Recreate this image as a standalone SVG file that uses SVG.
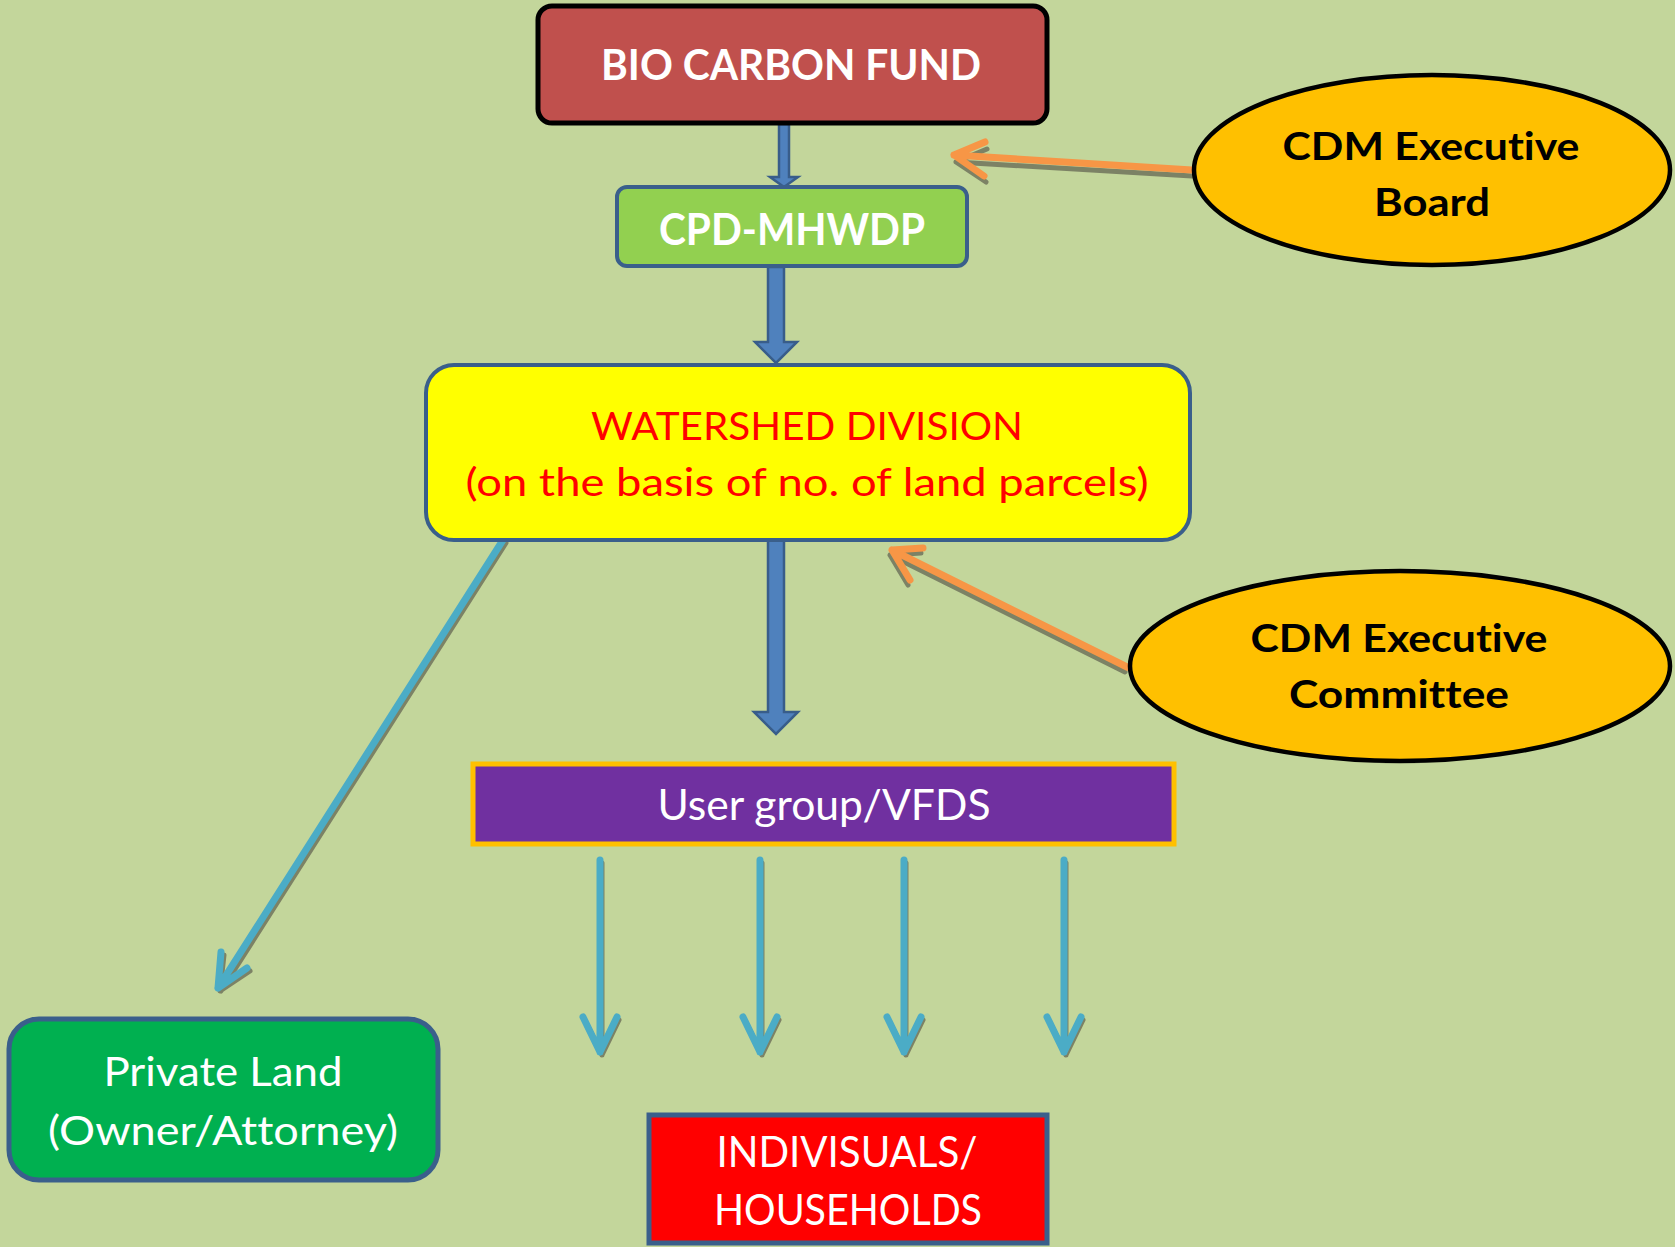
<svg xmlns="http://www.w3.org/2000/svg" width="1675" height="1247" viewBox="0 0 1675 1247">
<style>
text{font-family:Lato,"Liberation Sans",sans-serif;text-anchor:middle;font-variant-ligatures:none;font-feature-settings:"liga" 0,"clig" 0}
.b{font-weight:bold}
.w{fill:#fff}
.blk{fill:#000}
.red{fill:#FF0000}
.blue{fill:#4F81BD;stroke:#385D8A;stroke-width:2.5;stroke-linejoin:miter}
.cy{fill:none;stroke:#4BACC6;stroke-width:7;stroke-linecap:round;stroke-linejoin:round}
.or{fill:none;stroke:#F79646;stroke-width:7;stroke-linecap:round;stroke-linejoin:round}
.sh{fill:none;stroke:#5E5E4E;stroke-width:5;stroke-linecap:round;stroke-linejoin:round;opacity:0.7}
.ell{fill:#FFC000;stroke:#000;stroke-width:4.5}
</style>
<rect x="0" y="0" width="1675" height="1247" fill="#C3D69B"/>

<g id="connectors">
  <polygon class="blue" points="779,124 789,124 789,177 798,177 784,187 770,177 779,177"/>
  <polygon class="blue" points="768,267 784,267 784,342 797,342 776,363 755,342 768,342"/>
  <polygon class="blue" points="768,540 784,540 784,712 798,712 776,734 754,712 768,712"/>

  <path class="sh" d="M506,543 L221,991 M224,955 L220,991 L250,971"/>
  <path class="cy" d="M503,540 L218,988 M221,952 L218,988 L247,968"/>

  <g transform="translate(2,3)">
    <path class="sh" d="M600,860 V1052 M583,1017 L600,1052 L617,1017"/>
    <path class="sh" d="M760,860 V1052 M743,1017 L760,1052 L777,1017"/>
    <path class="sh" d="M904,860 V1052 M887,1017 L904,1052 L921,1017"/>
    <path class="sh" d="M1064,860 V1052 M1047,1017 L1064,1052 L1081,1017"/>
  </g>
  <path class="cy" d="M600,860 V1052 M583,1017 L600,1052 L617,1017"/>
  <path class="cy" d="M760,860 V1052 M743,1017 L760,1052 L777,1017"/>
  <path class="cy" d="M904,860 V1052 M887,1017 L904,1052 L921,1017"/>
  <path class="cy" d="M1064,860 V1052 M1047,1017 L1064,1052 L1081,1017"/>

  <path class="sh" d="M1192,173 L956,159 M987,146 L956,159 L986,179" transform="translate(0,3)"/>
  <path class="or" d="M1192,170 L954,155 M985,142 L954,155 L984,176"/>

  <path class="sh" d="M1127,669 L892,552 M923,550 L892,552 L910,582" transform="translate(-2,3)"/>
  <path class="or" d="M1127,667 L892,550 M923,548 L892,550 L910,580"/>
</g>

<g id="bio-carbon-fund">
  <rect x="538" y="6" width="509" height="117" rx="14" fill="#C0504D" stroke="#000" stroke-width="5"/>
  <text class="b w" x="791" y="80" font-size="42" textLength="380" lengthAdjust="spacingAndGlyphs">BIO CARBON FUND</text>
</g>

<g id="cpd-mhwdp">
  <rect x="617" y="187" width="350" height="79" rx="10" fill="#92D050" stroke="#3A5F8B" stroke-width="4"/>
  <text class="b w" x="792" y="245" font-size="44" textLength="266" lengthAdjust="spacingAndGlyphs">CPD-MHWDP</text>
</g>

<g id="cdm-executive-board">
  <ellipse class="ell" cx="1432" cy="170" rx="238" ry="95"/>
  <text class="b blk" x="1431" y="160" font-size="39" textLength="297" lengthAdjust="spacingAndGlyphs">CDM Executive</text>
  <text class="b blk" x="1432" y="216" font-size="39" textLength="116" lengthAdjust="spacingAndGlyphs">Board</text>
</g>

<g id="watershed-division">
  <rect x="426" y="365" width="764" height="175" rx="28" fill="#FFFF00" stroke="#3A5F8B" stroke-width="4"/>
  <text class="red" x="807" y="440" font-size="38" textLength="432" lengthAdjust="spacingAndGlyphs">WATERSHED DIVISION</text>
  <text class="red" x="807" y="496" font-size="38" textLength="683" lengthAdjust="spacingAndGlyphs">(on the basis of no. of land parcels)</text>
</g>

<g id="cdm-executive-committee">
  <ellipse class="ell" cx="1400" cy="666" rx="270" ry="95"/>
  <text class="b blk" x="1399" y="652" font-size="39" textLength="297" lengthAdjust="spacingAndGlyphs">CDM Executive</text>
  <text class="b blk" x="1399" y="708" font-size="39" textLength="220" lengthAdjust="spacingAndGlyphs">Committee</text>
</g>

<g id="user-group-vfds">
  <rect x="473" y="764" width="701" height="80" fill="#7030A0" stroke="#FFC000" stroke-width="5"/>
  <text class="w" x="824" y="820" font-size="42" textLength="333" lengthAdjust="spacingAndGlyphs">User group/VFDS</text>
</g>

<g id="private-land">
  <rect x="9" y="1019" width="429" height="161" rx="30" fill="#00B050" stroke="#3A5F8B" stroke-width="5"/>
  <text class="w" x="223" y="1086" font-size="40" textLength="239" lengthAdjust="spacingAndGlyphs">Private Land</text>
  <text class="w" x="223" y="1145" font-size="40" textLength="350" lengthAdjust="spacingAndGlyphs">(Owner/Attorney)</text>
</g>

<g id="individuals-households">
  <rect x="649" y="1115" width="398" height="128" fill="#FF0000" stroke="#3A5F8B" stroke-width="5"/>
  <text class="w" x="847" y="1167" font-size="42" textLength="261" lengthAdjust="spacingAndGlyphs">INDIVISUALS/</text>
  <text class="w" x="848" y="1225" font-size="42" textLength="268" lengthAdjust="spacingAndGlyphs">HOUSEHOLDS</text>
</g>
</svg>
